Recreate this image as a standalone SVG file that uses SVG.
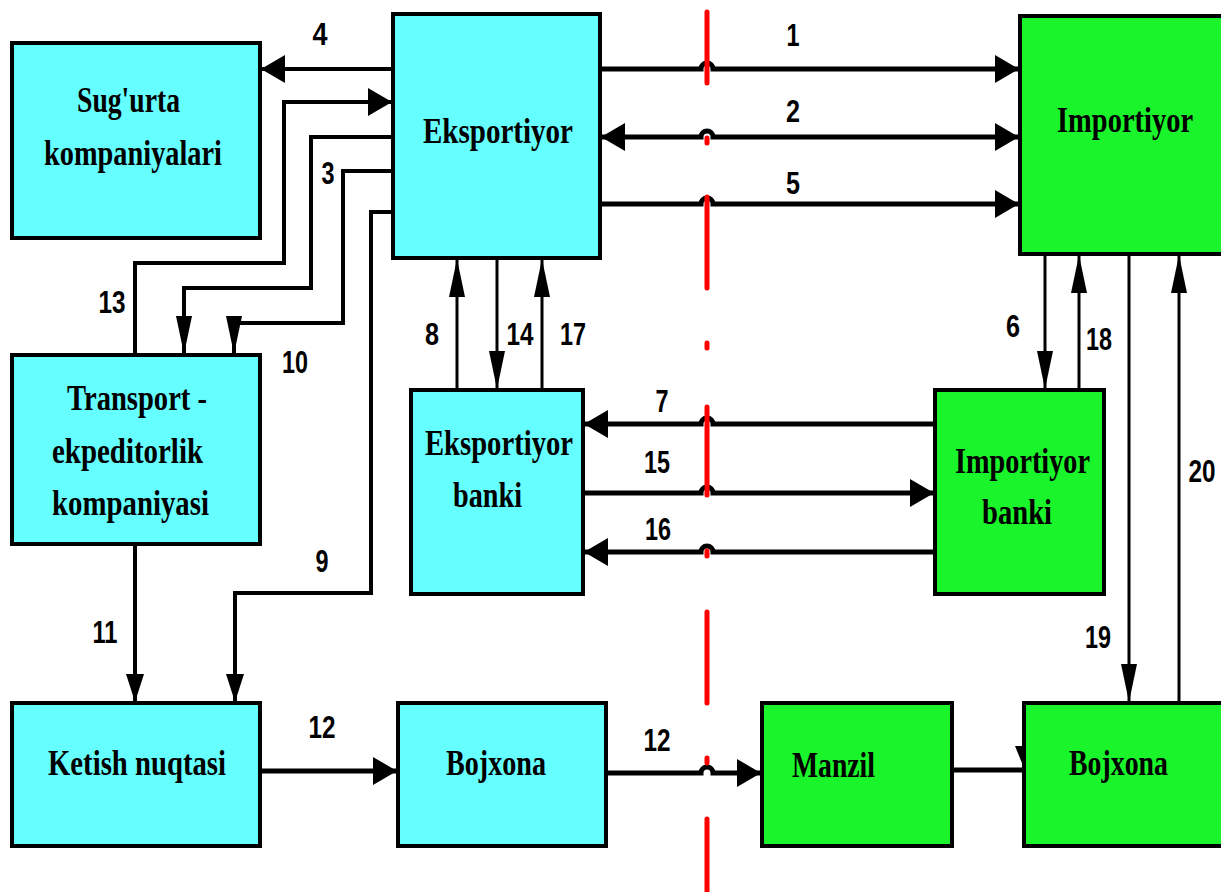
<svg xmlns="http://www.w3.org/2000/svg" width="1221" height="892" viewBox="0 0 1221 892">
<style>
.c{fill:#66ffff;stroke:#000;stroke-width:4}
.g{fill:#19f52a;stroke:#000;stroke-width:4}
.t{font-family:"Liberation Serif",serif;font-weight:bold;font-size:35px;fill:#000}
.n{font-family:"Liberation Sans",Arial,sans-serif;font-weight:bold;font-size:32px;fill:#000;text-anchor:middle}
.w{fill:none;stroke:#000;stroke-width:5}
.m{fill:none;stroke:#000;stroke-width:4}
.v{fill:none;stroke:#000;stroke-width:3}
.red{fill:none;stroke:#ff0000;stroke-width:5;stroke-linecap:round}
</style>
<defs>
<marker id="ah" markerUnits="userSpaceOnUse" markerWidth="24" markerHeight="28" refX="23" refY="14" orient="auto-start-reverse" viewBox="0 0 24 28"><path d="M0,0 L24,14 L0,28 z" fill="#000"/></marker>
<marker id="av" markerUnits="userSpaceOnUse" markerWidth="38" markerHeight="16" refX="37" refY="8" orient="auto" viewBox="0 0 38 16"><path d="M0,0 L38,8 L0,16 z" fill="#000"/></marker>
<marker id="am" markerUnits="userSpaceOnUse" markerWidth="28" markerHeight="18" refX="27" refY="9" orient="auto" viewBox="0 0 28 18"><path d="M0,0 L28,9 L0,18 z" fill="#000"/></marker>
</defs>

<g id="connectors">
<path class="m" d="M393,69 H262" marker-end="url(#ah)"/>
<path class="m" d="M135,355 V263 H284 V102 H391" marker-end="url(#ah)"/>
<path class="m" d="M393,137 H311 V288 H184 V353" marker-end="url(#av)"/>
<path class="m" d="M393,171 H343 V323 H234 V353" marker-end="url(#av)"/>
<path class="m" d="M393,212 H371 V593 H235 V701" marker-end="url(#am)"/>
<path class="m" d="M135,545 V701" marker-end="url(#am)"/>
<path class="w" d="M260,771 H396" marker-end="url(#ah)"/>
<path class="w" d="M606,773 H701 A6,6 0 0 1 713,773 H760" marker-end="url(#ah)"/>
<path class="w" d="M952,770 H1024"/>
<path d="M1015,746 L1033,746 L1024,768 z" fill="#000"/>
<path class="w" d="M600,69 H701 A6,6 0 0 1 713,69 H1018" marker-end="url(#ah)"/>
<path class="w" d="M602,137 H701 A6,6 0 0 1 713,137 H1018" marker-start="url(#ah)" marker-end="url(#ah)"/>
<path class="w" d="M600,204 H701 A6,6 0 0 1 713,204 H1018" marker-end="url(#ah)"/>
<path class="v" d="M457,390 V260" marker-end="url(#av)"/>
<path class="v" d="M497,258 V388" marker-end="url(#av)"/>
<path class="v" d="M542,390 V260" marker-end="url(#av)"/>
<path class="v" d="M1045,254 V388" marker-end="url(#av)"/>
<path class="v" d="M1079,390 V256" marker-end="url(#av)"/>
<path class="v" d="M1129,254 V701" marker-end="url(#av)"/>
<path class="v" d="M1179,703 V256" marker-end="url(#av)"/>
<path class="w" d="M935,424 H713 A6,6 0 0 0 701,424 H585" marker-end="url(#ah)"/>
<path class="w" d="M583,493 H701 A6,6 0 0 1 713,493 H933" marker-end="url(#ah)"/>
<path class="w" d="M935,552 H713 A6,6 0 0 0 701,552 H585" marker-end="url(#ah)"/>
</g>

<g id="node-sugurta">
<rect class="c" x="12" y="43" width="248" height="195"/>
<text class="t" x="77" y="112" textLength="103" lengthAdjust="spacingAndGlyphs">Sug'urta</text>
<text class="t" x="44" y="165" textLength="178" lengthAdjust="spacingAndGlyphs">kompaniyalari</text>
</g>
<g id="node-eksportiyor">
<rect class="c" x="393" y="14" width="207" height="244"/>
<text class="t" x="423" y="143" textLength="150" lengthAdjust="spacingAndGlyphs">Eksportiyor</text>
</g>
<g id="node-importiyor">
<rect class="g" x="1020" y="16" width="210" height="238"/>
<text class="t" transform="translate(1057,132) scale(0.814,1)" x="0" y="0">Importiyor</text>
</g>
<g id="node-transport">
<rect class="c" x="12" y="355" width="248" height="189"/>
<text class="t" x="67" y="410" textLength="140" lengthAdjust="spacingAndGlyphs">Transport -</text>
<text class="t" x="52" y="463" textLength="151" lengthAdjust="spacingAndGlyphs">ekpeditorlik</text>
<text class="t" x="52" y="515" textLength="157" lengthAdjust="spacingAndGlyphs">kompaniyasi</text>
</g>
<g id="node-eksportiyor-banki">
<rect class="c" x="411" y="390" width="172" height="204"/>
<text class="t" x="425" y="455" textLength="148" lengthAdjust="spacingAndGlyphs">Eksportiyor</text>
<text class="t" x="453" y="507" textLength="69" lengthAdjust="spacingAndGlyphs">banki</text>
</g>
<g id="node-importiyor-banki">
<rect class="g" x="935" y="390" width="169" height="204"/>
<text class="t" x="955" y="473" textLength="135" lengthAdjust="spacingAndGlyphs">Importiyor</text>
<text class="t" x="982" y="524" textLength="70" lengthAdjust="spacingAndGlyphs">banki</text>
</g>
<g id="node-ketish">
<rect class="c" x="12" y="703" width="248" height="143"/>
<text class="t" x="48" y="775" textLength="178" lengthAdjust="spacingAndGlyphs">Ketish nuqtasi</text>
</g>
<g id="node-bojxona-1">
<rect class="c" x="398" y="703" width="208" height="143"/>
<text class="t" x="446" y="775" textLength="100" lengthAdjust="spacingAndGlyphs">Bojxona</text>
</g>
<g id="node-manzil">
<rect class="g" x="762" y="703" width="190" height="143"/>
<text class="t" x="792" y="777" textLength="83" lengthAdjust="spacingAndGlyphs">Manzil</text>
</g>
<g id="node-bojxona-2">
<rect class="g" x="1024" y="703" width="210" height="143"/>
<text class="t" x="1069" y="775" textLength="99" lengthAdjust="spacingAndGlyphs">Bojxona</text>
</g>

<g id="border-line">
<path class="red" d="M707,12 V83 M707,138 V143 M707,197 V288 M707,343 V348 M707,407 V495 M707,551 V556 M707,612 V703 M707,758 V763 M707,819 V895"/>
</g>

<g id="labels">
<text class="n" x="320" y="45" textLength="15" lengthAdjust="spacingAndGlyphs">4</text>
<text class="n" x="793" y="46" textLength="13" lengthAdjust="spacingAndGlyphs">1</text>
<text class="n" x="793" y="122" textLength="14" lengthAdjust="spacingAndGlyphs">2</text>
<text class="n" x="793" y="194" textLength="14" lengthAdjust="spacingAndGlyphs">5</text>
<text class="n" x="328" y="184" textLength="13" lengthAdjust="spacingAndGlyphs">3</text>
<text class="n" x="112" y="313" textLength="27" lengthAdjust="spacingAndGlyphs">13</text>
<text class="n" x="295" y="373" textLength="26" lengthAdjust="spacingAndGlyphs">10</text>
<text class="n" x="322" y="572" textLength="13" lengthAdjust="spacingAndGlyphs">9</text>
<text class="n" x="105" y="643" textLength="25" lengthAdjust="spacingAndGlyphs">11</text>
<text class="n" x="432" y="345" textLength="14" lengthAdjust="spacingAndGlyphs">8</text>
<text class="n" x="520" y="345" textLength="27" lengthAdjust="spacingAndGlyphs">14</text>
<text class="n" x="573" y="345" textLength="26" lengthAdjust="spacingAndGlyphs">17</text>
<text class="n" x="1013" y="337" textLength="14" lengthAdjust="spacingAndGlyphs">6</text>
<text class="n" x="1099" y="350" textLength="26" lengthAdjust="spacingAndGlyphs">18</text>
<text class="n" transform="translate(1202,482) scale(0.76,1)" x="0" y="0">20</text>
<text class="n" x="1098" y="648" textLength="26" lengthAdjust="spacingAndGlyphs">19</text>
<text class="n" x="662" y="412" textLength="13" lengthAdjust="spacingAndGlyphs">7</text>
<text class="n" x="657" y="473" textLength="26" lengthAdjust="spacingAndGlyphs">15</text>
<text class="n" x="658" y="540" textLength="26" lengthAdjust="spacingAndGlyphs">16</text>
<text class="n" x="322" y="738" textLength="27" lengthAdjust="spacingAndGlyphs">12</text>
<text class="n" x="657" y="751" textLength="27" lengthAdjust="spacingAndGlyphs">12</text>
</g>
</svg>
